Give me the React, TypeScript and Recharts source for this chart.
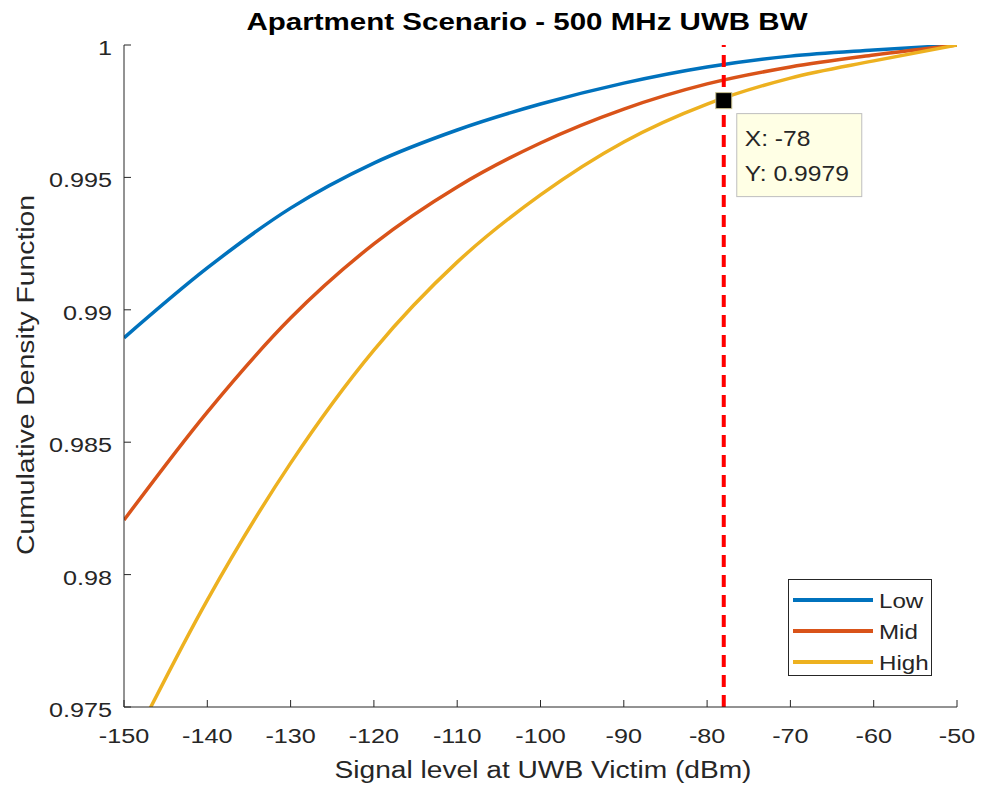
import React from 'react';
import {
  LineChart, Line, XAxis, YAxis, ReferenceLine, ReferenceDot, Legend,
} from 'recharts';

const xValues = [-150, -140, -130, -120, -110, -100, -90, -80, -70, -60, -50];
const lowValues = [0.98894, 0.99158, 0.99384, 0.99554, 0.99679, 0.99777, 0.99856, 0.99917, 0.99958, 0.99981, 1];
const midValues = [0.98206, 0.98614, 0.98969, 0.99249, 0.99464, 0.9963, 0.99758, 0.99853, 0.99917, 0.99962, 1];
const highValues = [0.973, 0.97904, 0.98421, 0.98848, 0.9918, 0.99434, 0.99634, 0.99777, 0.99875, 0.9994, 1];

const xTicks = [-150, -140, -130, -120, -110, -100, -90, -80, -70, -60, -50];
const yTicks = [0.975, 0.98, 0.985, 0.99, 0.995, 1];
const yTickLabels = ['0.975', '0.98', '0.985', '0.99', '0.995', '1'];

const seriesNames = ['Low', 'Mid', 'High'];
const seriesColors = ['#0072BD', '#D95319', '#EDB120'];

const markerX = -78;
const markerY = 0.9979;

const titleText = 'Apartment Scenario - 500 MHz UWB BW';
const xLabelText = 'Signal level at UWB Victim (dBm)';
const yLabelText = 'Cumulative Density Function';

const data = xValues.map((x, i) => ({
  x,
  Low: lowValues[i],
  Mid: midValues[i],
  High: highValues[i],
}));

const FONT = '"Liberation Sans", Arial, Helvetica, sans-serif';
const AX = '#262626';
const SX = 1.2;

const SText = (p: any) => (
  <text
    transform={`translate(${p.x},${p.y}) scale(${p.sx ?? SX},1)`}
    textAnchor={p.anchor ?? 'start'}
    fontFamily={FONT}
    fontSize={p.size ?? 21}
    fill={p.fill ?? AX}
  >
    {p.children}
  </text>
);

const XTick = (props: any) => {
  const { x, y, payload } = props;
  return (
    <g>
      <line x1={x} x2={x} y1={y} y2={y - 7} stroke={AX} strokeWidth={1} />
      <SText x={x} y={y + 36} anchor="middle">{payload.value}</SText>
    </g>
  );
};

const XTopTick = (props: any) => {
  const { x, y } = props;
  return <line x1={x} x2={x} y1={y} y2={y + 7} stroke={AX} strokeWidth={1} />;
};

const YTick = (props: any) => {
  const { x, y, payload } = props;
  const idx = yTicks.findIndex((t) => Math.abs(t - payload.value) < 1e-9);
  const label = idx >= 0 ? yTickLabels[idx] : String(payload.value);
  return (
    <g>
      <line x1={x} x2={x + 7} y1={y} y2={y} stroke={AX} strokeWidth={1} />
      <SText x={x - 12} y={y + 10} anchor="end">{label}</SText>
    </g>
  );
};

const YRightTick = (props: any) => {
  const { x, y } = props;
  return <line x1={x} x2={x - 7} y1={y} y2={y} stroke={AX} strokeWidth={1} />;
};

const MarkerShape = (props: any) => {
  const { cx, cy } = props;
  return (
    <g>
      <rect x={cx - 8} y={cy - 8} width={16} height={16} fill="#000" stroke="#C8C090" strokeWidth={1} />
      <rect x={cx + 13} y={cy + 13} width={125} height={83} fill="#FFFFE5" stroke="#BFBFBF" strokeWidth={1} />
      <SText x={cx + 21} y={cy + 45} sx={1.12} size={22}>{`X: ${markerX}`}</SText>
      <SText x={cx + 21} y={cy + 80} sx={1.12} size={22}>{`Y: ${markerY}`}</SText>
    </g>
  );
};

const LegendContent = () => (
  <div
    style={{
      width: 142,
      height: 95,
      border: `1px solid ${AX}`,
      background: '#fff',
      boxSizing: 'content-box',
      position: 'relative',
    }}
  >
    <svg width={142} height={95}>
      {seriesNames.map((n, i) => (
        <g key={n}>
          <line x1={4} x2={84} y1={20 + i * 31} y2={20 + i * 31} stroke={seriesColors[i]} strokeWidth={4} />
          <SText x={90} y={28 + i * 31} sx={1.15}>{n}</SText>
        </g>
      ))}
    </svg>
  </div>
);

export default function App() {
  return (
    <div style={{ position: 'absolute', left: 0, top: 0, width: 981, height: 789, background: '#fff' }}>
      <LineChart
        width={981}
        height={789}
        data={data}
        margin={{ top: 45, right: 24, bottom: 0, left: 0 }}
      >
        <XAxis
          dataKey="x"
          type="number"
          domain={[-150, -50]}
          ticks={xTicks}
          allowDataOverflow
          height={82}
          tickSize={0}
          tickMargin={0}
          tickLine={false}
          axisLine={{ stroke: AX, strokeWidth: 1 }}
          tick={<XTick />}
          interval={0}
        />
        <XAxis
          xAxisId="top"
          orientation="top"
          dataKey="x"
          type="number"
          domain={[-150, -50]}
          ticks={xTicks}
          allowDataOverflow
          height={0}
          tickSize={0}
          tickMargin={0}
          tickLine={false}
          axisLine={{ stroke: AX, strokeWidth: 1 }}
          tick={<XTopTick />}
          interval={0}
        />
        <YAxis
          type="number"
          domain={[0.975, 1]}
          ticks={yTicks}
          allowDataOverflow
          width={124}
          tickSize={0}
          tickMargin={0}
          tickLine={false}
          axisLine={{ stroke: AX, strokeWidth: 1 }}
          tick={<YTick />}
          interval={0}
        />
        <YAxis
          yAxisId="right"
          orientation="right"
          type="number"
          domain={[0.975, 1]}
          ticks={yTicks}
          allowDataOverflow
          width={0}
          tickSize={0}
          tickMargin={0}
          tickLine={false}
          axisLine={{ stroke: AX, strokeWidth: 1 }}
          tick={<YRightTick />}
          interval={0}
        />
        {seriesNames.map((n, i) => (
          <Line
            key={n}
            dataKey={n}
            type="monotone"
            stroke={seriesColors[i]}
            strokeWidth={3.5}
            dot={false}
            isAnimationActive={false}
          />
        ))}
        <ReferenceLine x={markerX} stroke="#FF0000" strokeWidth={4} strokeDasharray="12 8" />
        <ReferenceDot x={markerX} y={markerY} r={8} shape={<MarkerShape />} />
        <Legend
          layout="vertical"
          align="center"
          verticalAlign="middle"
          content={<LegendContent />}
          wrapperStyle={{ position: 'absolute', left: 788, top: 579, width: 144, height: 97, bottom: 'auto', right: 'auto', margin: 0 }}
        />
        <text
          x={527}
          y={30}
          textAnchor="middle"
          fontFamily={FONT}
          fontSize={23}
          fontWeight="bold"
          fill="#000"
          textLength={561}
          lengthAdjust="spacingAndGlyphs"
        >
          {titleText}
        </text>
        <text
          x={543}
          y={778}
          textAnchor="middle"
          fontFamily={FONT}
          fontSize={23}
          fill={AX}
          textLength={417}
          lengthAdjust="spacingAndGlyphs"
        >
          {xLabelText}
        </text>
        <text
          x={0}
          y={0}
          transform="translate(34, 375) rotate(-90)"
          textAnchor="middle"
          fontFamily={FONT}
          fontSize={23}
          fill={AX}
          textLength={360}
          lengthAdjust="spacingAndGlyphs"
        >
          {yLabelText}
        </text>
      </LineChart>
    </div>
  );
}
